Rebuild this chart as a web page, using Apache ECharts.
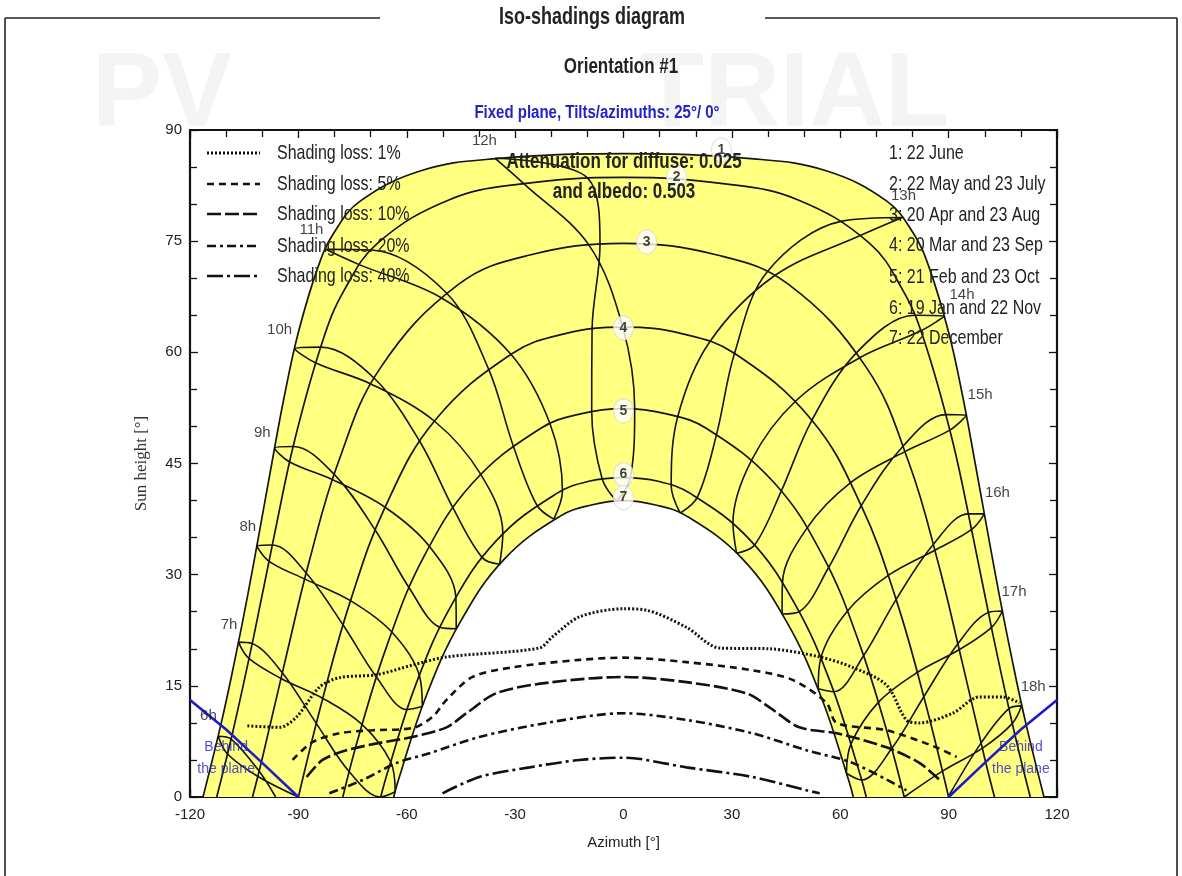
<!DOCTYPE html>
<html><head><meta charset="utf-8">
<script src="https://cdn.jsdelivr.net/npm/echarts/dist/echarts.min.js"></script>
<style>html,body{margin:0;padding:0;background:#fff}#c{width:1182px;height:876px}</style>
</head><body><div id="c"></div>
<script>
// ---------- axes ----------
const xTicks = [-120, -90, -60, -30, 0, 30, 60, 90, 120];
const yTicks = [0, 15, 30, 45, 60, 75, 90];

// ---------- date curves (sun paths) [azimuth, height] ----------
const dateLabels = ['1: 22 June', '2: 22 May and 23 July', '3: 20 Apr and 23 Aug', '4: 20 Mar and 23 Sep',
  '5: 21 Feb and 23 Oct', '6: 19 Jan and 22 Nov', '7: 22 December'];
const path1 = [[-116.4,0],[-111.2,10.3],[-107.5,18.7],[-104.0,27.3],[-100.7,36.0],[-97.4,44.9],[-94.0,53.8],[-90.0,62.7],[-84.5,71.6],[-80.2,76.1],[-72.9,80.4],[-56.1,84.5],[-36.1,86.1],[0,86.8],[36.1,86.1],[56.1,84.5],[72.9,80.4],[80.2,76.1],[84.5,71.6],[90.0,62.7],[94.0,53.8],[97.4,44.9],[100.7,36.0],[104.0,27.3],[107.5,18.7],[111.2,10.3],[116.4,0]];
const path2 = [[-112.6,0],[-108.1,8.9],[-102.3,21.8],[-96.8,35.0],[-90.9,48.4],[-83.1,61.8],[-77.3,68.4],[-67.9,74.8],[-48.2,80.6],[-28.7,82.7],[0,83.6],[28.7,82.7],[48.2,80.6],[67.9,74.8],[77.3,68.4],[83.1,61.8],[90.9,48.4],[96.8,35.0],[102.3,21.8],[108.1,8.9],[112.6,0]];
const path3 = [[-102.7,0],[-100.1,5.0],[-93.7,18.3],[-87.0,31.8],[-79.0,45.1],[-67.3,57.9],[-45.6,69.2],[-26.2,73.1],[0,74.7],[26.2,73.1],[45.6,69.2],[67.3,57.9],[79.0,45.1],[87.0,31.8],[93.7,18.3],[100.1,5.0],[102.7,0]];
const path4 = [[-90,0],[-83.2,13.4],[-75.5,26.6],[-65.9,39.2],[-52.2,50.8],[-30.9,59.8],[-16.4,62.5],[0,63.4],[16.4,62.5],[30.9,59.8],[52.2,50.8],[65.9,39.2],[75.5,26.6],[83.2,13.4],[90,0]];
const path5 = [[-77.7,0],[-73.3,8.2],[-65.3,20.7],[-55.3,32.4],[-41.7,42.4],[-23.1,49.7],[-11.9,51.7],[0,52.4],[11.9,51.7],[23.1,49.7],[41.7,42.4],[55.3,32.4],[65.3,20.7],[73.3,8.2],[77.7,0]];
const path6 = [[-67.2,0],[-65.2,3.5],[-57.4,15.3],[-47.5,26.0],[-34.8,34.8],[-18.7,40.9],[-9.6,42.6],[0,43.1],[9.6,42.6],[18.7,40.9],[34.8,34.8],[47.5,26.0],[57.4,15.3],[65.2,3.5],[67.2,0]];
const path7 = [[-63.6,0],[-62.5,2.0],[-54.8,13.4],[-45.1,23.7],[-32.8,32.2],[-17.5,37.9],[-8.9,39.4],[0,40.0],[8.9,39.4],[17.5,37.9],[32.8,32.2],[45.1,23.7],[54.8,13.4],[62.5,2.0],[63.6,0]];

// ---------- hour positions per date (legal time 6h..18h), null = sun below horizon ----------
const hourNames = ['6h','7h','8h','9h','10h','11h','12h','13h','14h','15h','16h','17h','18h'];
const hrDec22 = [null,[-63.2,0.7],[-55.7,12.2],[-46.3,22.7],[-34.3,31.4],[-19.3,37.5],[-1.9,39.9],[15.7,38.3],[31.3,32.9],[43.9,24.7],[53.9,14.6],[61.7,3.2],null];
const hrJan19 = [null,[-67.3,0],[-59.9,11.8],[-50.8,22.9],[-39.1,32.3],[-24.0,39.4],[-5.9,42.9],[13.2,42.0],[30.3,37.0],[44.0,28.9],[54.6,18.7],[63.0,7.2],null];
const hrFeb21 = [null,[-75.9,3.4],[-68.4,16.2],[-59.3,28.2],[-47.2,39.0],[-30.6,47.5],[-8.8,52.0],[15.0,51.3],[35.5,45.5],[50.8,36.3],[62.0,25.1],[70.6,12.8],[77.7,0]];
const hrMar20 = [[-96.3,0],[-85.0,9.9],[-77.6,23.2],[-68.7,36.0],[-56.3,47.9],[-37.4,57.8],[-8.7,63.1],[23.7,61.3],[47.6,53.4],[62.8,42.4],[73.3,29.9],[81.3,16.8],[88.3,3.5]];
const hrApr20 = [[-100.9,3.5],[-94.5,16.8],[-87.8,30.2],[-80.0,43.5],[-69.0,56.5],[-49.0,68.0],[-6.5,74.6],[41.7,70.3],[65.5,59.3],[77.9,46.6],[86.2,33.3],[93.0,19.9],[99.4,6.6]];
const hrMay22 = [[-108.6,7.8],[-102.8,20.7],[-97.2,34.0],[-91.4,47.3],[-83.8,60.7],[-69.8,73.8],[-9.9,83.5],[65.7,75.8],[82.3,62.9],[90.3,49.5],[96.4,36.1],[101.9,22.9],[107.6,9.9]];
const hrJun22 = [[-112.2,8.2],[-106.6,20.9],[-101.5,33.9],[-96.6,47.1],[-91.0,60.5],[-82.5,73.9],[-35.6,86.2],[77.2,78.2],[88.8,64.9],[94.9,51.5],[99.9,38.2],[104.9,25.1],[110.2,12.3]];
const hrJul23 = [[-109.6,5.8],[-103.7,18.7],[-98.1,31.8],[-92.4,45.2],[-85.3,58.6],[-73.0,71.8],[-27.7,82.8],[60.5,77.7],[80.6,65.0],[89.2,51.6],[95.4,38.2],[101.0,24.9],[106.6,11.9]];
const hrAug23 = [[-101.3,2.8],[-94.8,16.0],[-88.2,29.4],[-80.5,42.8],[-69.8,55.7],[-50.6,67.4],[-9.6,74.5],[39.7,70.8],[64.6,60.0],[77.3,47.3],[85.8,34.1],[92.6,20.7],[99.0,7.3]];
const hrSep23 = [[-90.0,0],[-83.2,13.3],[-75.6,26.5],[-66.0,39.1],[-52.3,50.7],[-31.1,59.7],[-0.2,63.4],[30.7,59.8],[52.1,50.8],[65.8,39.3],[75.4,26.6],[83.1,13.5],[90.0,0.1]];
const hrOct23 = [null,[-72.4,9.8],[-64.2,22.3],[-53.7,33.8],[-39.6,43.6],[-20.3,50.3],[3.1,52.4],[25.8,49.0],[43.7,41.3],[56.7,30.9],[66.5,19.1],[74.2,6.5],null];
const hrNov22 = [null,[-64.5,4.8],[-56.5,16.4],[-46.4,26.9],[-33.4,35.6],[-16.9,41.3],[1.9,43.1],[20.5,40.5],[36.3,34.0],[48.6,25.0],[58.2,14.2],[65.9,2.3],null];
const hourLabelPos = [[-114.9,10.9],[-109.2,23.2],[-104.0,36.4],[-100.0,49.2],[-95.2,63.0],[-86.4,76.5],[-38.5,88.6],[77.5,81.1],[93.7,67.7],[98.7,54.3],[103.5,41.0],[108.1,27.7],[113.4,14.8]];

// ---------- date number bubbles ----------
const bubbleText = ['1','2','3','4','5','6','7'];
const bubblePos = [[27.1,87.3],[14.7,83.7],[6.4,74.9],[0,63.3],[0,52.1],[0,43.5],[0,40.4]];

// ---------- iso-shading curves ----------
const lossLabels = ['Shading loss: 1%','Shading loss: 5%','Shading loss: 10%','Shading loss: 20%','Shading loss: 40%'];
const loss1 = [[-104.1,9.6],[-95.2,9.4],[-90.5,10.8],[-84.2,14.8],[-78.6,16.1],[-68.4,16.5],[-58.4,17.8],[-49.0,18.9],[-23.3,20.1],[-19.7,21.6],[-12.2,24.3],[0,25.4],[6.4,25.2],[17.4,22.9],[26.6,20.1],[40.4,20.0],[54.3,18.9],[63.4,17.5],[72.8,15.1],[78.3,10.4],[81.9,10.0],[91.1,11.3],[98.5,13.5],[104.9,13.5],[109.6,12.7]];
const loss5 = [[-91.6,5.0],[-86.1,7.4],[-78.6,8.6],[-69.5,9.0],[-58.4,9.3],[-52.9,10.8],[-49.0,13.1],[-41.8,16.2],[-30.7,17.5],[-12.2,18.5],[0,18.8],[17.4,18.2],[35.7,17.1],[46.8,15.8],[56.2,12.7],[59.0,10.0],[72.8,9.0],[86.6,6.7],[92.2,5.4]];
const loss10 = [[-87.7,2.7],[-83.3,5.0],[-76.7,6.3],[-67.5,7.3],[-58.4,8.1],[-49.0,9.4],[-43.5,11.3],[-35.2,14.0],[-21.3,15.4],[0,16.2],[17.4,15.5],[34.0,14.0],[40.4,12.1],[48.7,9.4],[59.0,8.6],[72.8,6.7],[81.9,4.6],[87.5,2.3]];
const loss20 = [[-81.4,0.5],[-72.2,2.3],[-62.8,4.6],[-53.7,5.9],[-39.9,8.1],[-21.3,10.0],[0,11.3],[17.4,10.4],[35.7,8.6],[50.7,6.3],[63.4,4.6],[78.3,0.9]];
const loss40 = [[-50.1,0.5],[-39.9,2.7],[-26.0,4.0],[-12.2,5.0],[0,5.3],[17.4,4.0],[35.7,2.7],[50.7,0.9],[54.3,0.5]];

// ---------- plane horizon ("behind the plane") ----------
const behindLeft = [[-120,13.1],[-110,9.1],[-100,4.6],[-90,0]];
const behindRight = [[90,0],[100,4.6],[110,9.1],[120,13.1]];
const behindTextPos = [[-110,5.2],[110,5.2]];

// ---------- build ----------
const FONT = "'Liberation Sans', Arial, sans-serif";
const lossDashes = [[2,2],[7,5],[14,4],[9,4,3,4],[16,4,3,4]];
const lossData = [loss1, loss5, loss10, loss20, loss40];
const paths = [path1, path2, path3, path4, path5, path6, path7];
const loopOrder = [hrDec22, hrJan19, hrFeb21, hrMar20, hrApr20, hrMay22, hrJun22, hrJul23, hrAug23, hrSep23, hrOct23, hrNov22, hrDec22];

const series = [];
const lineBase = {type:'line', symbol:'none', silent:true, animation:false};
// yellow area (June path) and white inner area (December path)
series.push(Object.assign({}, lineBase, {data:path1, smooth:0.4, z:1,
  lineStyle:{color:'#151515', width:1.7}, areaStyle:{color:'#ffff80', opacity:1}}));
series.push(Object.assign({}, lineBase, {data:path7, smooth:0.4, z:2,
  lineStyle:{color:'#151515', width:1.7}, areaStyle:{color:'#ffffff', opacity:1}}));
for (let i = 1; i < 6; i++) {
  series.push(Object.assign({}, lineBase, {data:paths[i], smooth:0.4, z:3,
    lineStyle:{color:'#151515', width:1.7}}));
}
// hour lines (analemma loops)
for (let k = 0; k < hourNames.length; k++) {
  const pts = loopOrder.map(a => a[k]).filter(p => p);
  series.push(Object.assign({}, lineBase, {data:pts, smooth:0.35, z:3,
    lineStyle:{color:'#151515', width:1.6}}));
}
// iso-shading lines
for (let i = 0; i < lossData.length; i++) {
  series.push(Object.assign({}, lineBase, {data:lossData[i], smooth:0.3, z:5,
    lineStyle:{color:'#111', width:i === 0 ? 3 : 2.6, type:lossDashes[i], cap:'butt'}}));
}
// behind-the-plane lines
[behindLeft, behindRight].forEach(d => series.push(Object.assign({}, lineBase, {data:d, z:6,
  lineStyle:{color:'#1c1cc8', width:2.6}})));
// behind-the-plane text
series.push({type:'scatter', silent:true, animation:false, z:7, symbolSize:1, itemStyle:{color:'rgba(0,0,0,0)'},
  data:behindTextPos.map(p => ({value:p})),
  label:{show:true, position:'inside', formatter:'Behind\nthe plane', color:'#2424c8', fontSize:14, lineHeight:22, fontFamily:FONT}});
// hour labels
series.push({type:'scatter', silent:true, animation:false, z:7, symbolSize:1, itemStyle:{color:'rgba(0,0,0,0)'},
  data:hourLabelPos.map((p, i) => ({value:p, name:hourNames[i]})),
  label:{show:true, position:'inside', formatter:p => p.name, color:'#111', fontSize:15, fontFamily:FONT}});
// date bubbles
series.push({type:'scatter', silent:true, animation:false, z:8, symbol:'circle', symbolSize:[20,24],
  itemStyle:{color:'#ffffff', borderColor:'#d8d8d8', borderWidth:1},
  data:bubblePos.map((p, i) => ({value:p, name:bubbleText[i]})),
  label:{show:true, position:'inside', formatter:p => p.name, color:'#111', fontSize:14, fontWeight:'bold', fontFamily:FONT}});

// ---------- graphics (titles, legend, frame) ----------
const G = [];
const txt = (x, y, text, o) => G.push(Object.assign({type:'text', x, y, silent:true, z:100,
  style:Object.assign({text, fontFamily:FONT, fontSize:16, fill:'#222', align:'left', verticalAlign:'middle'}, o.style || {})}, o.el || {}));
// watermark
txt(92, 97, 'PV', {style:{fontSize:105, fontWeight:'bold', fill:'#f4f4f4'}, el:{z:-10}});
txt(640, 97, 'TRIAL', {style:{fontSize:105, fontWeight:'bold', fill:'#f4f4f4'}, el:{z:-10}});
// frame
const ln = (x1, y1, x2, y2, w, c, dash) => G.push({type:'line', silent:true, z:100, shape:{x1, y1, x2, y2},
  style:{stroke:c || '#222', lineWidth:w || 1.5, lineDash:dash || null}});
ln(5, 18, 380, 18, 1.6);
ln(765, 18, 1177, 18, 1.6);
ln(5, 18, 5, 876, 1.6);
ln(1177, 18, 1177, 876, 1.6);
txt(592, 18, 'Iso-shadings diagram', {style:{fontSize:18, fontWeight:'bold', align:'center'}, el:{scaleY:1.3}});
txt(621, 67, 'Orientation #1', {style:{fontSize:17, fontWeight:'bold', align:'center'}, el:{scaleY:1.3}});
txt(597, 113, 'Fixed plane, Tilts/azimuths: 25°/ 0°', {style:{fontSize:15, fontWeight:'bold', align:'center', fill:'#2323c8'}, el:{scaleY:1.25}});
// legend of iso-shading lines
const legendY = [153, 184, 214, 246, 276];
for (let i = 0; i < lossLabels.length; i++) {
  ln(207, legendY[i], 260, legendY[i], i === 0 ? 3 : 2.6, '#111', lossDashes[i]);
  txt(277, legendY[i], lossLabels[i], {el:{scaleY:1.3}});
}
// list of dates
const dateY = [153, 184, 215, 245, 277, 308, 338];
for (let i = 0; i < dateLabels.length; i++) txt(889, dateY[i], dateLabels[i], {el:{scaleY:1.3}});
// attenuation text
txt(624, 162, 'Attenuation for diffuse: 0.025', {style:{fontSize:17, fontWeight:'bold', align:'center'}, el:{scaleY:1.3}});
txt(624, 192, 'and albedo: 0.503', {style:{fontSize:17, fontWeight:'bold', align:'center'}, el:{scaleY:1.3}});

const axisCommon = {type:'value', axisLine:{show:true, onZero:false, lineStyle:{color:'#111', width:2.2}},
  axisTick:{show:true, inside:true, length:8, lineStyle:{color:'#111', width:1.3}},
  minorTick:{show:true, splitNumber:3, length:7, lineStyle:{color:'#111', width:1.3}},
  splitLine:{show:false}, minorSplitLine:{show:false}};
const option = {
  backgroundColor:'#ffffff',
  animation:false,
  grid:{left:190, right:125, top:130, bottom:79, containLabel:false},
  xAxis:[
    Object.assign({}, axisCommon, {position:'bottom', min:xTicks[0], max:xTicks[xTicks.length-1], interval:30,
      axisLabel:{color:'#222', fontSize:15, fontFamily:FONT, margin:10},
      name:'Azimuth [°]', nameLocation:'middle', nameGap:38, nameTextStyle:{color:'#222', fontSize:15, fontFamily:FONT}}),
    Object.assign({}, axisCommon, {position:'top', min:xTicks[0], max:xTicks[xTicks.length-1], interval:30, axisLabel:{show:false}})
  ],
  yAxis:[
    Object.assign({}, axisCommon, {position:'left', min:yTicks[0], max:yTicks[yTicks.length-1], interval:15,
      axisLabel:{color:'#222', fontSize:15, fontFamily:FONT, margin:8},
      name:'Sun height [°]', nameLocation:'middle', nameGap:40, nameRotate:90,
      nameTextStyle:{color:'#333', fontSize:17, fontFamily:"'Liberation Serif', 'Times New Roman', serif"}}),
    Object.assign({}, axisCommon, {position:'right', min:yTicks[0], max:yTicks[yTicks.length-1], interval:15, axisLabel:{show:false}})
  ],
  series,
  graphic:{elements:G}
};
const chart = echarts.init(document.getElementById('c'), null, {renderer:'canvas'});
chart.setOption(option);
</script></body></html>
